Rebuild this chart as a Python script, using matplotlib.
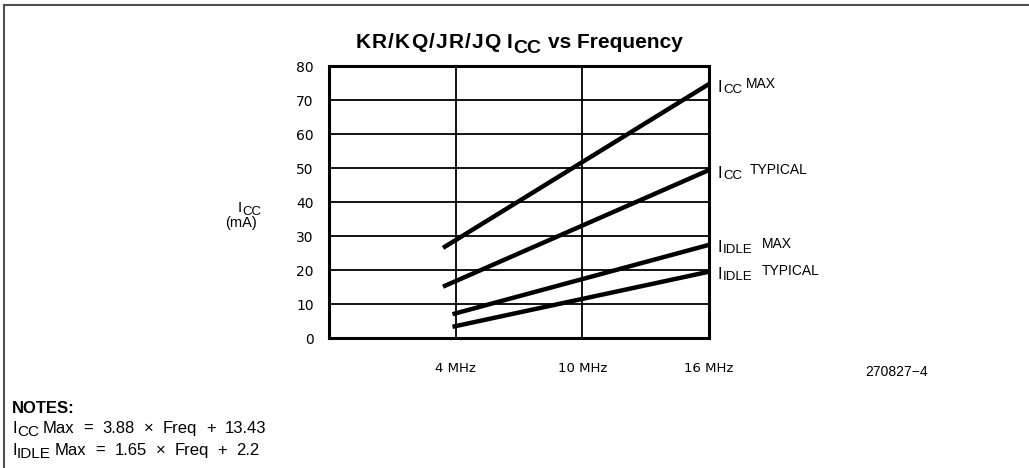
import matplotlib
matplotlib.use("Agg")
import matplotlib.pyplot as plt
from matplotlib.lines import Line2D
from matplotlib.transforms import IdentityTransform

plt.rcParams['font.family'] = ['Liberation Sans', 'DejaVu Sans']

# ---- data ----
freq_ticks = [4, 10, 16]
freq_labels = ['4 MHz', '10 MHz', '16 MHz']
y_ticks = [0, 10, 20, 30, 40, 50, 60, 70, 80]

label_sub = ['CC', 'CC', 'IDLE', 'IDLE']
label_word = ['MAX', 'TYPICAL', 'MAX', 'TYPICAL']
icc_max_x = [3.4, 16]
icc_max_y = [26.5, 74.7]
icc_typ_x = [3.4, 16]
icc_typ_y = [15.1, 49.4]
idle_max_x = [3.85, 16]
idle_max_y = [7.0, 27.4]
idle_typ_x = [3.85, 16]
idle_typ_y = [3.3, 19.5]

series_x = [icc_max_x, icc_typ_x, idle_max_x, idle_typ_x]
series_y = [icc_max_y, icc_typ_y, idle_max_y, idle_typ_y]

W, H = 1029, 468
fig = plt.figure(figsize=(W / 100, H / 100), dpi=100)
ax = fig.add_axes([329 / W, 1 - 338 / H, (709 - 329) / W, (338 - 66) / H])
R = fig.canvas.get_renderer()
ID = IdentityTransform()


def seq(x, y, pieces, center=False):
    """Draw text pieces left to right. y is baseline in display px (from bottom).
    piece = (text, size, dy_down_px, gap_px, weight)"""
    texts = []
    x0 = x
    for text, size, dy, gap, weight in pieces:
        x += gap
        t = fig.text(x, y - dy, text, fontsize=size, fontweight=weight,
                     va='baseline', ha='left', transform=ID)
        texts.append(t)
        x = t.get_window_extent(R).x1
    if center:
        shift = (x - x0) / 2
        for t in texts:
            tx, ty = t.get_position()
            t.set_position((tx - shift, ty))
    return x


ax.set_xlim(-2, 16)
ax.set_ylim(0, 80)
ax.set_xticks(freq_ticks)
ax.set_xticklabels(freq_labels, fontsize=9.5, family='DejaVu Sans')
ax.set_yticks(y_ticks)
ax.set_yticklabels([str(v) for v in y_ticks], fontsize=10, family='DejaVu Sans')
ax.tick_params(length=0)
ax.tick_params(axis='y', pad=11)
ax.tick_params(axis='x', pad=17)
ax.grid(True, color='black', linewidth=1.3)
ax.set_axisbelow(True)
for s in ax.spines.values():
    s.set_linewidth(2.2)
    s.set_color('black')

for xs, ys, sub, word, gap in zip(series_x, series_y, label_sub, label_word, [4, 8, 9, 9]):
    ax.plot(xs, ys, color='black', linewidth=3.2, solid_capstyle='butt', zorder=3)
    px, py = ax.transData.transform((xs[-1], ys[-1]))
    seq(px + 9, py - 3.5, [('I', 12, 4, 0, 'normal'),
                            (sub, 9.5, 5, 0.5, 'normal'),
                            (word, 10, 0, gap, 'normal')])

# title
title_first = 'KR/KQ/JR/JQ'
pieces = [(c, 15, 0, (0 if i == 0 else 1.2), 'bold') for i, c in enumerate(title_first)]
pieces += [('I', 15, 0, 6, 'bold'), ('CC', 14, 5, 0.5, 'bold'),
           ('vs Frequency', 15, 0, 7, 'bold')]
seq(519, H - 48, pieces, center=True)

# y label
seq(238, H - 212, [('I', 11, 0, 0, 'normal'), ('CC', 9.5, 3, 0.5, 'normal')])
fig.text(241 / W, 1 - 227 / H, '(mA)', fontsize=10.5, ha='center', va='baseline')

fig.text(897 / W, 1 - 376 / H, '270827\u22124', fontsize=10, ha='center', va='baseline')

fig.text(12, H - 413, 'NOTES:', fontsize=12, fontweight='bold', ha='left',
         va='baseline', transform=ID)
seq(12, H - 433, [('I', 12, 0, 0, 'normal'), ('CC', 11, 2.5, 0.5, 'normal'),
                  ('Max', 12, 0, 4, 'normal'), ('=', 12, 0, 9, 'normal'),
                  ('3.88', 12, 0, 9, 'normal'), ('\u00d7', 12, 0, 9, 'normal'),
                  ('Freq', 12, 0, 9, 'normal'), ('+', 12, 0, 9, 'normal'),
                  ('13.43', 12, 0, 9, 'normal')])
seq(12, H - 455, [('I', 12, 0, 0, 'normal'), ('IDLE', 11, 2.5, 0.5, 'normal'),
                  ('Max', 12, 0, 4, 'normal'), ('=', 12, 0, 9, 'normal'),
                  ('1.65', 12, 0, 9, 'normal'), ('\u00d7', 12, 0, 9, 'normal'),
                  ('Freq', 12, 0, 9, 'normal'), ('+', 12, 0, 9, 'normal'),
                  ('2.2', 12, 0, 9, 'normal')])

# outer frame (top and left edges)
fig.add_artist(Line2D([3.5 / W, 1], [1 - 5 / H, 1 - 5 / H], transform=fig.transFigure,
                      color='#505050', linewidth=1.5))
fig.add_artist(Line2D([3.5 / W, 3.5 / W], [1 - 5 / H, 0], transform=fig.transFigure,
                      color='#505050', linewidth=1.5))

fig.savefig('out.png', dpi=100)
